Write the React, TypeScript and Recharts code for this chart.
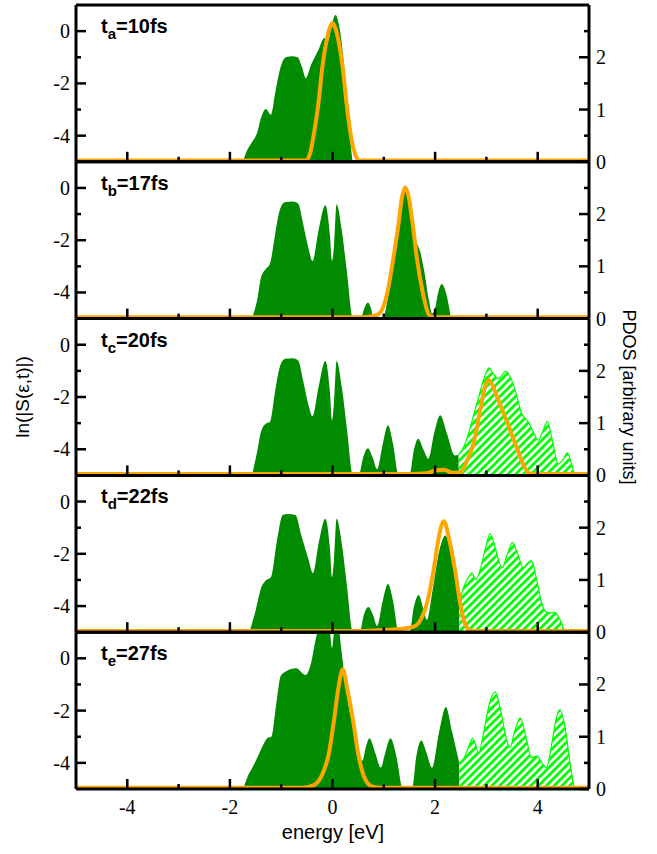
import { ComposedChart, Area, Line, XAxis, YAxis } from 'recharts';

const W = 657;
const H = 854;
const LEFT = 76;
const RIGHT = 589;
const TOP = 5;
const PANEL_H = 156.8;
const AX = 0.5; // axis band thickness (must be > 0 for recharts to draw the axis)

const xTicks = [-4, -3, -2, -1, 0, 1, 2, 3, 4];
const lnTicks = [-4, -3, -2, -1, 0];
const pdosTicks = [0, 0.5, 1, 1.5, 2, 2.5];

const panelNames = ['a', 'b', 'c', 'd', 'e'];
const panelTimes = [10, 17, 20, 22, 27];

// filled PDOS (occupied part), [energy, pdos]
const greenA = [[-1.75,0],[-1.65,0.25],[-1.56,0.39],[-1.47,0.55],[-1.39,0.85],[-1.3,1.01],[-1.2,0.9],[-1.12,1.3],[-1.01,1.82],[-0.91,2.0],[-0.79,2.02],[-0.68,2.0],[-0.59,1.8],[-0.52,1.6],[-0.42,1.85],[-0.27,2.15],[-0.16,2.37],[-0.09,2.3],[-0.01,2.65],[0.06,2.81],[0.13,2.6],[0.23,1.8],[0.31,0.8],[0.39,0]];
const greenB = [[-1.57,0],[-1.47,0.35],[-1.39,0.8],[-1.3,0.95],[-1.22,1.05],[-1.12,1.6],[-1.02,2.1],[-0.92,2.23],[-0.77,2.24],[-0.67,2.2],[-0.57,1.8],[-0.47,1.35],[-0.39,1.1],[-0.27,1.7],[-0.14,2.17],[-0.05,1.6],[-0.01,1.1],[0.03,1.4],[0.08,2.19],[0.18,1.7],[0.28,0.9],[0.4,0],[0.55,0],[0.62,0.2],[0.69,0.31],[0.75,0.2],[0.8,0],[0.97,0],[1.08,0.4],[1.18,1.2],[1.31,2.1],[1.43,2.5],[1.53,2.1],[1.63,1.5],[1.71,1.28],[1.79,0.9],[1.88,0.35],[1.94,0.1],[2.0,0.2],[2.06,0.5],[2.13,0.66],[2.21,0.5],[2.31,0]];
const greenC = [[-1.57,0],[-1.47,0.45],[-1.39,0.85],[-1.3,0.99],[-1.22,1.02],[-1.12,1.6],[-1.02,2.1],[-0.92,2.23],[-0.77,2.24],[-0.67,2.2],[-0.57,1.8],[-0.47,1.35],[-0.39,1.13],[-0.27,1.7],[-0.14,2.19],[-0.05,1.6],[-0.01,1.05],[0.03,1.4],[0.08,2.19],[0.18,1.7],[0.28,0.9],[0.4,0],[0.51,0],[0.6,0.35],[0.69,0.52],[0.78,0.35],[0.87,0.12],[0.98,0.6],[1.08,0.96],[1.18,0.6],[1.29,0],[1.5,0],[1.59,0.5],[1.67,0.7],[1.77,0.5],[1.87,0.32],[1.98,0.8],[2.1,1.15],[2.23,0.8],[2.39,0.38],[2.46,0.4]];
const greenD = [[-1.62,0],[-1.49,0.45],[-1.39,0.85],[-1.3,0.99],[-1.2,1.05],[-1.09,1.7],[-0.97,2.24],[-0.87,2.26],[-0.72,2.24],[-0.62,1.9],[-0.47,1.4],[-0.38,1.13],[-0.27,1.7],[-0.14,2.17],[-0.05,1.6],[-0.01,1.05],[0.03,1.4],[0.08,2.17],[0.18,1.7],[0.28,0.9],[0.4,0],[0.53,0],[0.61,0.33],[0.7,0.48],[0.79,0.33],[0.87,0.12],[0.98,0.6],[1.08,0.92],[1.18,0.6],[1.29,0],[1.5,0],[1.59,0.5],[1.68,0.71],[1.77,0.45],[1.84,0.24],[1.95,0.8],[2.08,1.55],[2.2,1.85],[2.31,1.5],[2.41,0.9],[2.47,0.55]];
const greenE = [[-1.74,0],[-1.65,0.25],[-1.56,0.41],[-1.42,0.7],[-1.26,0.98],[-1.19,1.0],[-1.1,1.6],[-1.01,2.16],[-0.91,2.25],[-0.71,2.31],[-0.52,2.18],[-0.42,2.4],[-0.32,2.9],[-0.17,3.3],[-0.07,3.2],[-0.01,2.7],[0.03,3.0],[0.08,3.3],[0.18,2.6],[0.26,1.94],[0.35,1.4],[0.45,0.98],[0.58,0.54],[0.65,0.8],[0.72,0.97],[0.83,0.7],[0.94,0.41],[1.03,0.7],[1.13,0.97],[1.25,0.6],[1.37,0],[1.55,0],[1.63,0.6],[1.73,0.93],[1.83,0.7],[1.94,0.41],[2.08,1.1],[2.21,1.57],[2.33,1.1],[2.47,0.5]];

// hatched PDOS (unoccupied part)
const hatchC = [[2.46,0.4],[2.56,0.55],[2.65,0.8],[2.75,1.15],[2.85,1.5],[2.95,1.85],[3.05,2.06],[3.13,1.95],[3.23,1.85],[3.38,1.99],[3.48,1.85],[3.56,1.63],[3.69,1.18],[3.82,1.02],[3.93,0.8],[4.01,0.67],[4.1,0.85],[4.19,1.03],[4.28,0.7],[4.4,0.22],[4.49,0.3],[4.58,0.43],[4.65,0.25],[4.72,0]];
const hatchD = [[2.47,0.55],[2.57,0.9],[2.65,1.05],[2.72,1.13],[2.79,1.0],[2.88,1.2],[2.98,1.6],[3.07,1.88],[3.15,1.7],[3.23,1.4],[3.31,1.23],[3.41,1.5],[3.51,1.72],[3.61,1.5],[3.72,1.23],[3.8,1.32],[3.88,1.37],[3.98,1.0],[4.07,0.59],[4.15,0.4],[4.23,0.37],[4.33,0.38],[4.43,0.25],[4.53,0]];
const hatchE = [[2.47,0.5],[2.57,0.6],[2.65,0.8],[2.73,0.97],[2.79,0.85],[2.85,0.69],[2.95,1.1],[3.05,1.6],[3.17,1.86],[3.28,1.5],[3.38,1.0],[3.46,0.79],[3.55,1.1],[3.66,1.36],[3.77,1.0],[3.88,0.6],[3.98,0.63],[4.08,0.5],[4.17,0.41],[4.28,0.9],[4.35,1.3],[4.43,1.52],[4.53,1.2],[4.63,0.5],[4.71,0]];

// ln|S(e,t)|, [energy, ln]
const lnA = [[-5,-4.95],[-0.52,-4.95],[-0.44,-4.7],[-0.36,-3.9],[-0.27,-2.7],[-0.2,-1.4],[-0.12,-0.4],[-0.05,0.15],[0.0,0.3],[0.05,0.15],[0.12,-0.4],[0.2,-1.4],[0.27,-2.7],[0.35,-3.9],[0.44,-4.7],[0.53,-4.95],[5,-4.95]];
const lnB = [[-5,-4.95],[0.63,-4.95],[0.88,-4.85],[1.07,-4.0],[1.18,-2.76],[1.28,-1.48],[1.36,-0.3],[1.42,0.02],[1.48,-0.3],[1.57,-1.48],[1.65,-2.76],[1.76,-4.0],[1.88,-4.85],[1.98,-4.95],[5,-4.95]];
const lnC = [[-5,-4.95],[1.5,-4.95],[1.83,-4.92],[2.03,-4.8],[2.18,-4.78],[2.33,-4.9],[2.49,-4.88],[2.63,-4.4],[2.75,-3.78],[2.88,-2.5],[2.96,-1.7],[3.04,-1.35],[3.13,-1.6],[3.21,-2.0],[3.31,-2.5],[3.43,-3.1],[3.56,-3.78],[3.68,-4.4],[3.82,-4.9],[3.95,-4.95],[5,-4.95]];
const lnD = [[-5,-4.95],[0.63,-4.95],[1.03,-4.92],[1.43,-4.85],[1.62,-4.75],[1.75,-4.4],[1.84,-3.9],[1.97,-2.63],[2.06,-1.5],[2.17,-0.75],[2.28,-1.5],[2.39,-2.63],[2.49,-3.9],[2.57,-4.6],[2.68,-4.92],[2.83,-4.95],[5,-4.95]];
const lnE = [[-5,-4.95],[-0.57,-4.95],[-0.36,-4.85],[-0.19,-4.4],[-0.07,-3.64],[0.03,-2.36],[0.11,-1.2],[0.2,-0.42],[0.29,-1.2],[0.4,-2.36],[0.5,-3.64],[0.61,-4.5],[0.77,-4.9],[0.93,-4.95],[5,-4.95]];

const toPts = (arr: number[][]) => arr.map(([x, y]) => ({ x, y }));

const panels = [
  { green: greenA, hatch: null, ln: lnA },
  { green: greenB, hatch: null, ln: lnB },
  { green: greenC, hatch: hatchC, ln: lnC },
  { green: greenD, hatch: hatchD, ln: lnD },
  { green: greenE, hatch: hatchE, ln: lnE },
];

const SERIF = "'Liberation Serif', 'Times New Roman', serif";
const SANS = "'Liberation Sans', Arial, sans-serif";

function XTick({ x, y, payload, showLabel }: any) {
  const v = payload.value;
  const major = v % 2 === 0;
  return (
    <g>
      <line x1={x} x2={x} y1={y} y2={y - (major ? 10 : 5)} stroke="#000" strokeWidth={2.5} />
      {showLabel && major && (
        <text x={x} y={y + 25} textAnchor="middle" fontFamily={SERIF} fontSize={20} fill="#000">{v}</text>
      )}
    </g>
  );
}

function LnTick({ x, y, payload }: any) {
  const v = payload.value;
  const major = v % 2 === 0;
  return (
    <g>
      <line x1={x} x2={x + (major ? 10 : 5)} y1={y} y2={y} stroke="#000" strokeWidth={2.5} />
      {major && (
        <text x={x - 6} y={y} dy="0.35em" textAnchor="end" fontFamily={SERIF} fontSize={20} fill="#000">{v}</text>
      )}
    </g>
  );
}

function PdosTick({ x, y, payload }: any) {
  const v = payload.value;
  const major = Number.isInteger(v);
  return (
    <g>
      <line x1={x} x2={x - (major ? 10 : 5)} y1={y} y2={y} stroke="#000" strokeWidth={2.5} />
      {major && (
        <text x={x + 7} y={y} dy="0.35em" textAnchor="start" fontFamily={SERIF} fontSize={20} fill="#000">{v}</text>
      )}
    </g>
  );
}

function Panel({ k }: { k: number }) {
  const top = TOP + k * PANEL_H - AX;
  const bottom = H - (TOP + (k + 1) * PANEL_H) - AX;
  const p = panels[k];
  const frame = { stroke: '#000', strokeWidth: 3 };
  return (
    <div style={{ position: 'absolute', left: 0, top: 0 }}>
      <ComposedChart width={W} height={H} margin={{ top, bottom, left: LEFT - AX, right: W - RIGHT - AX }}>
        <defs>
          <pattern id={`hatch${k}`} patternUnits="userSpaceOnUse" width={5.5} height={5.5} patternTransform="rotate(45)">
            <rect width={5.5} height={5.5} fill="#fff" />
            <rect width={2.8} height={5.5} fill="#00ff00" />
          </pattern>
        </defs>
        <Area data={toPts(p.green)} dataKey="y" yAxisId="pdos" type="monotone" fill="#008b00" fillOpacity={1} stroke="none" isAnimationActive={false} />
        {p.hatch && (
          <Area data={toPts(p.hatch)} dataKey="y" yAxisId="pdos" type="monotone" fill={`url(#hatch${k})`} fillOpacity={1} stroke="#00ff00" strokeWidth={1.2} isAnimationActive={false} />
        )}
        <Line data={toPts(p.ln)} dataKey="y" yAxisId="ln" type="monotone" stroke="#ffa500" strokeWidth={4} dot={false} isAnimationActive={false} />
        <XAxis dataKey="x" type="number" domain={[-5, 5]} allowDataOverflow ticks={xTicks} interval={0} height={AX}
          tickSize={0} tickMargin={0} axisLine={frame} tickLine={false}
          tick={(props: any) => <XTick {...props} showLabel={k === 4} />} />
        <XAxis xAxisId="top" orientation="top" dataKey="x" type="number" domain={[-5, 5]} ticks={[0]} height={AX}
          tickSize={0} tick={false} tickLine={false} axisLine={frame} />
        <YAxis yAxisId="ln" orientation="left" type="number" domain={[-5, 1]} allowDataOverflow ticks={lnTicks} interval={0}
          width={AX} tickSize={0} tickMargin={0} axisLine={frame} tickLine={false}
          tick={(props: any) => <LnTick {...props} />} />
        <YAxis yAxisId="pdos" orientation="right" type="number" domain={[0, 3]} allowDataOverflow ticks={pdosTicks} interval={0}
          width={AX} tickSize={0} tickMargin={0} axisLine={frame} tickLine={false}
          tick={(props: any) => <PdosTick {...props} />} />
      </ComposedChart>
    </div>
  );
}

export default function App() {
  return (
    <div style={{ position: 'absolute', left: 0, top: 0, width: W, height: H, background: '#fff' }}>
      {panels.map((_, k) => <Panel key={k} k={k} />)}
      <svg width={W} height={H} style={{ position: 'absolute', left: 0, top: 0, pointerEvents: 'none' }}>
        {panelNames.map((n, k) => {
          const base = TOP + k * PANEL_H + 28;
          return (
            <text key={n} x={101} y={base} fontFamily={SANS} fontWeight="bold" fontSize={20} fill="#000">
              t<tspan dy={6} fontSize={15}>{n}</tspan><tspan dy={-6}>={panelTimes[k]}fs</tspan>
            </text>
          );
        })}
        <text x={29} y={397} transform="rotate(-90 29 397)" textAnchor="middle" fontFamily={SANS} fontSize={19} fill="#000">ln(|S(ε,t)|)</text>
        <text x={623} y={397} transform="rotate(90 623 397)" textAnchor="middle" fontFamily={SANS} fontSize={18} fill="#000">PDOS [arbitrary units]</text>
        <text x={333} y={839} textAnchor="middle" fontFamily={SANS} fontSize={20} fill="#000">energy [eV]</text>
      </svg>
    </div>
  );
}
